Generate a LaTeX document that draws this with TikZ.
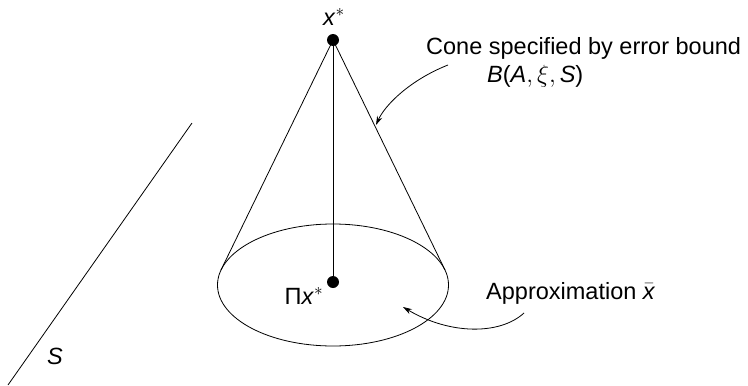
\documentclass[tikz,border=0pt]{standalone}
\usepackage{fontspec}
\setmainfont{Liberation Sans}
\usetikzlibrary{arrows.meta}
\newcommand{\ix}[1]{\textit{#1}}
\tikzset{
  lbl/.style={font=\fontsize{23.5}{28}\selectfont, inner sep=0pt},
  dotpt/.style={circle, fill=black, minimum size=12pt, inner sep=0pt},
  thin line/.style={line width=0.8pt},
  callout/.style={line width=0.8pt, -{Stealth[length=9pt,width=5.5pt]}}
}
\begin{document}
\begin{tikzpicture}[x=1pt,y=-1pt]
\useasboundingbox (0,0) rectangle (748,386);
% points
\node[dotpt] (top) at (333,40) {};
\node[dotpt] (bot) at (333,282) {};
\coordinate (c) at (333,285);
% ellipse
\draw[thin line] (c) ellipse [x radius=115.5, y radius=61];
% cone sides (tangent points)
\coordinate (tl) at (221,270);
\coordinate (tr) at (445,270);
\draw[thin line] (top.center) -- (tl);
\draw[thin line] (top.center) -- (tr);
\draw[thin line] (top) -- (bot);
% plane S
\coordinate (s1) at (192,123);
\coordinate (s2) at (8,385);
\draw[thin line] (s1) -- (s2);
\node[lbl] (slab) at (55,356) {\ix{S}};
% labels
\node[lbl] (xs) at (334,17) {\ix{x}$^*$};
\node[lbl] (pix) at (304,296) {Π\ix{x}$^*$};
\node[lbl, anchor=west] (cone) at (426,48) {Cone specified by error bound};
\node[lbl, anchor=west] (bnd) at (487,76) {\ix{B}(\ix{A}$,\xi,$\,\ix{S})};
\node[lbl, anchor=west] (appr) at (486,293) {Approximation $\bar{\mbox{\ix{x}}}$};
% callouts
\coordinate (a1s) at (448,65);
\coordinate (a1e) at (376,125);
\draw[callout] (a1s) .. controls (410,80) and (385,105) .. (a1e);
\coordinate (a2s) at (524,313);
\coordinate (a2e) at (403,307);
\draw[callout] (a2s) .. controls (500,335) and (450,335) .. (a2e);
\end{tikzpicture}
\end{document}
